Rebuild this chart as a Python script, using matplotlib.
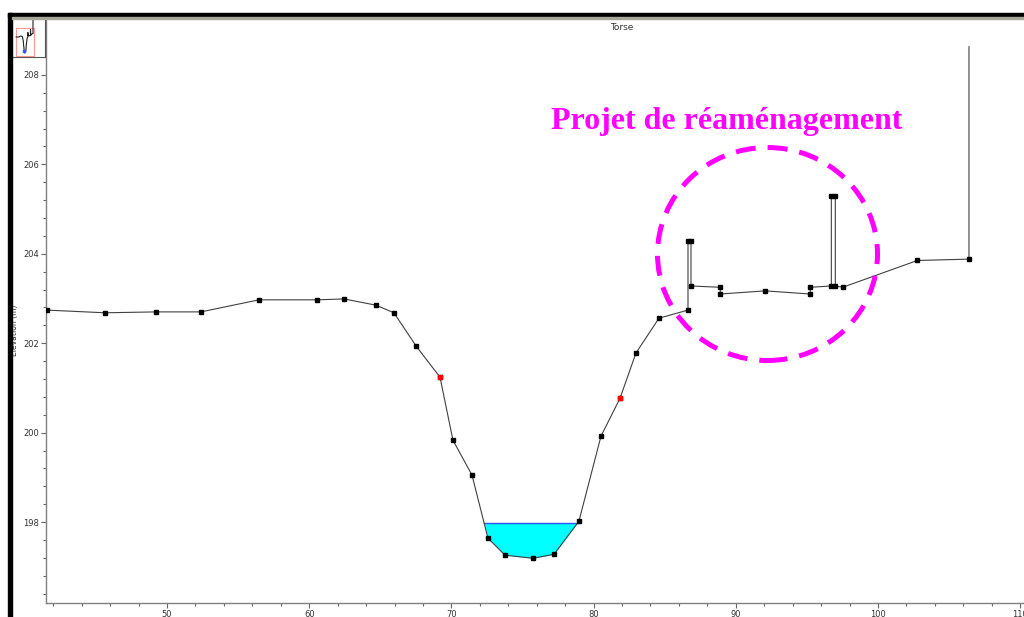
import numpy as np
import matplotlib
matplotlib.use("Agg")
import matplotlib.pyplot as plt
from matplotlib.patches import Ellipse, Rectangle
from matplotlib.ticker import MultipleLocator

# Cross-section "Torse" : station (m) / elevation (m)
station = [41.56, 45.64, 49.23, 52.39, 56.47, 60.55, 62.45, 64.70, 65.96, 67.51,
           69.20, 70.11, 71.45, 72.57, 73.77, 75.74, 77.22, 78.97, 80.52, 81.86,
           82.98, 84.60, 86.64, 86.64, 86.85, 86.85, 88.91, 88.91, 92.07, 95.24,
           95.24, 96.72, 96.72, 97.00, 97.00, 97.52, 102.77, 106.40, 106.40]
elevation = [202.74, 202.68, 202.70, 202.70, 202.97, 202.97, 202.99, 202.85, 202.68, 201.94,
             201.24, 199.83, 199.05, 197.64, 197.26, 197.19, 197.28, 198.02, 199.92, 200.77,
             201.78, 202.56, 202.74, 204.29, 204.29, 203.28, 203.25, 203.10, 203.17, 203.10,
             203.25, 203.28, 205.29, 205.29, 203.28, 203.25, 203.85, 203.88, 208.63]
# bank stations (red points)
bank_station = [69.20, 81.86]
bank_elev = [201.24, 200.77]
# water surface elevation
wsel = 197.98

xticks = [50, 60, 70, 80, 90, 100, 110]
yticks = [198, 200, 202, 204, 206, 208]

W, H = 1024, 617
fig = plt.figure(figsize=(W / 100, H / 100), dpi=100)
fig.patch.set_facecolor("white")

# main plot area
ax = fig.add_axes([46 / W, (H - 603) / H, (W - 46) / W, (603 - 19) / H])
ax.set_xlim(41.49, 110.27)
ax.set_ylim(196.19, 209.25)

x = np.array(station)
y = np.array(elevation)

# water in the channel
ch = slice(11, 19)
ax.fill_between(x[ch], y[ch], wsel, where=y[ch] < wsel, interpolate=True,
                color="#00ffff", lw=0, zorder=1)
left = np.interp(wsel, y[12:14][::-1], x[12:14][::-1])
right = np.interp(wsel, y[16:18], x[16:18])
ax.plot([left, right], [wsel, wsel], color="#3355ff", lw=1.0, zorder=2)

# ground line and points
ax.plot(x, y, color="#404040", lw=0.8, zorder=3)
ax.plot(x[:-1], y[:-1], ls="none", marker="s", ms=2.6, color="black", zorder=4)
ax.plot(bank_station, bank_elev, ls="none", marker="s", ms=2.6, color="red", zorder=5)

# axes style
for s in ["top", "right"]:
    ax.spines[s].set_visible(False)
for s in ["left", "bottom"]:
    ax.spines[s].set_color("#808080")
    ax.spines[s].set_linewidth(1.0)
ax.set_xticks(xticks)
ax.set_yticks(yticks)
ax.xaxis.set_minor_locator(MultipleLocator(2))
ax.yaxis.set_minor_locator(MultipleLocator(0.4))
ax.tick_params(which="both", direction="out", colors="#666666", labelcolor="#333333",
               labelsize=6, width=0.8)
ax.tick_params(which="major", length=3.5, pad=1.5)
ax.tick_params(which="minor", length=2.5)
ax.set_ylabel("Elevation (m)", fontsize=5.5, color="#333333")
ax.yaxis.set_label_coords(-27.5 / (W - 46), (603 - 330) / (603 - 19))

fig.text(622 / W, 1 - 28 / H, "Torse", fontsize=6.5, color="#333333",
         ha="center", va="center")

# annotation
fig.text(727 / W, 1 - 121 / H, "Projet de réaménagement", fontsize=23,
         fontweight="bold", family="Liberation Serif", color="#ff00ff",
         ha="center", va="center")
circle = Ellipse((767.5 / W, 1 - 254 / H), 220 / W, 213 / H, transform=fig.transFigure,
                 fill=False, edgecolor="#ff00ff", lw=3.6, ls=(0, (4, 2.4)), zorder=10)
fig.patches.append(circle)

# window frame bits of the screenshot
fig.patches.append(Rectangle((8 / W, 0), 4 / W, (H - 13) / H, transform=fig.transFigure,
                             color="black", zorder=20))
fig.patches.append(Rectangle((8 / W, 1 - 17 / H), (W - 8) / W, 4 / H, transform=fig.transFigure,
                             color="black", zorder=20))
fig.patches.append(Rectangle((12 / W, 1 - 19 / H), (W - 12) / W, 2 / H, transform=fig.transFigure,
                             color="#a8a89a", zorder=20))

# overview inset (top-left)
ins = fig.add_axes([12 / W, 1 - 57 / H, 33 / W, 38 / H])
ins.set_facecolor("white")
ins.plot(x, y, color="#222222", lw=0.8)
ins.plot(left, wsel, marker="s", ms=1.5, color="#3355ff")
ins.set_xlim(25.5, 152.7)
ins.set_ylim(195.8, 208.9)
ins.add_patch(Rectangle((41.49, 196.19), 110.27 - 41.49, 209.25 - 196.19 - 3.5,
                        fill=False, edgecolor="#ff9999", lw=0.8))
ins.set_xticks([])
ins.set_yticks([])
for s in ins.spines.values():
    s.set_color("#555555")
    s.set_linewidth(0.8)
ins.spines["top"].set_visible(False)
ins.spines["left"].set_visible(False)

fig.savefig("out.png", dpi=100)
